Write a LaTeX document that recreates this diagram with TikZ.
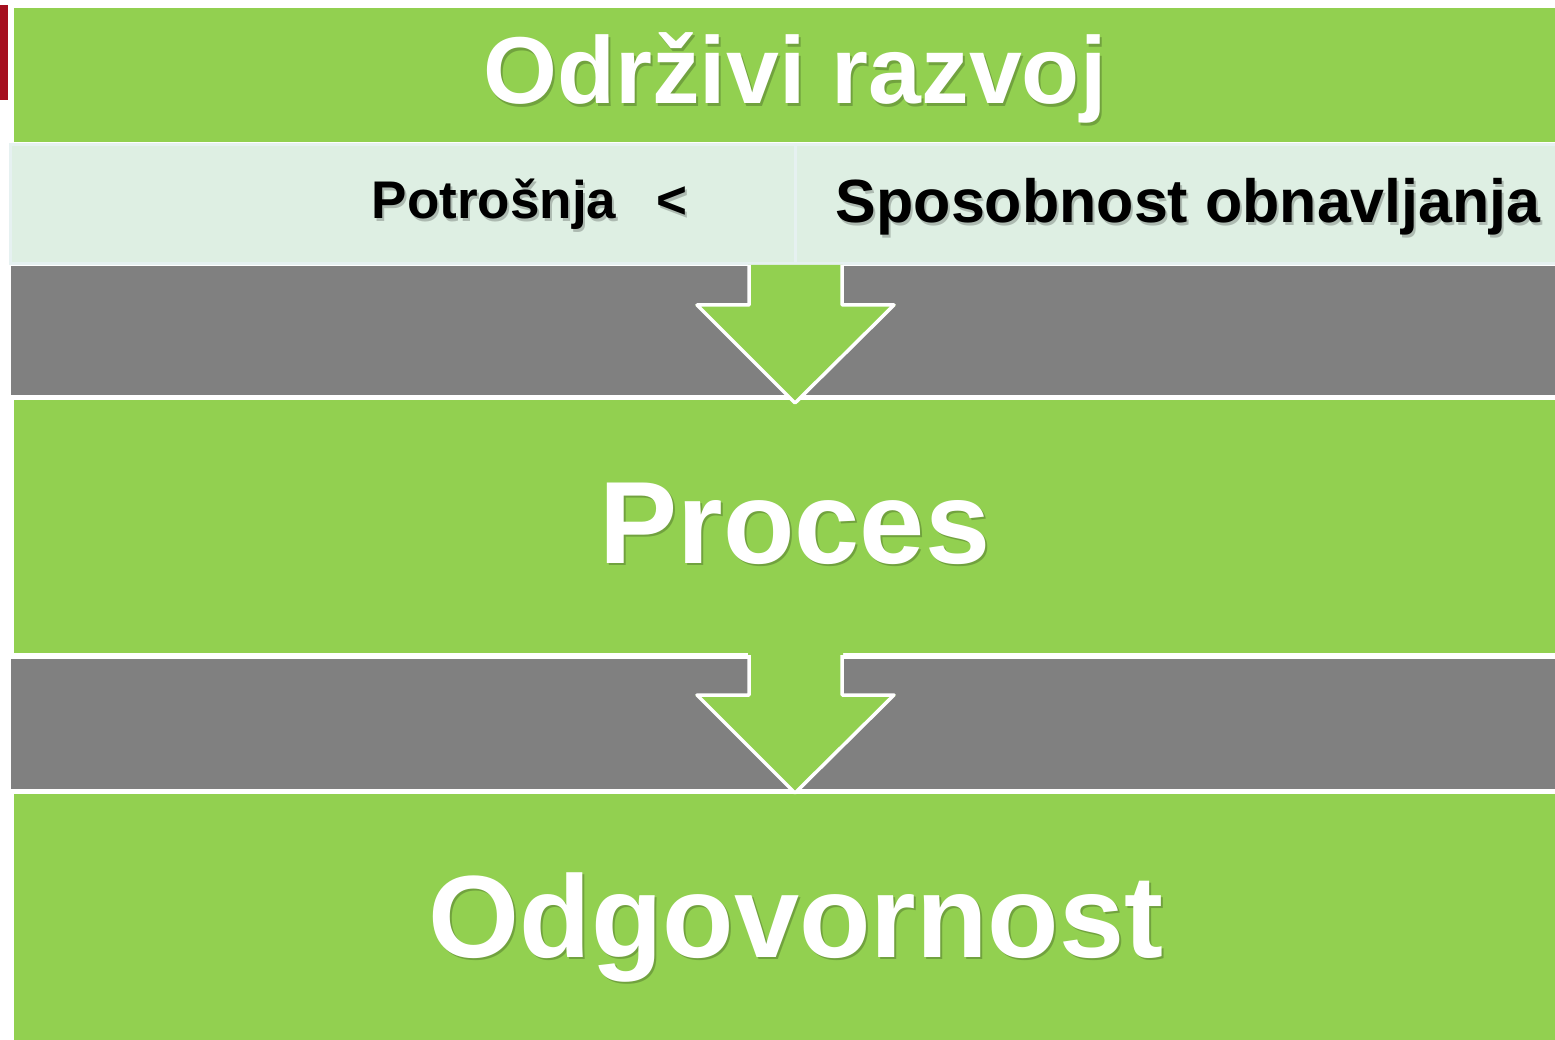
\documentclass[tikz,border=0pt]{standalone}
\usepackage{fontspec}
\setmainfont{Liberation Sans}
\definecolor{zelena}{HTML}{92D050}
\definecolor{siva}{HTML}{808080}
\definecolor{blijeda}{HTML}{DEEFE3}
\definecolor{rub}{HTML}{E6F1F1}
\definecolor{crvena}{HTML}{A50F1F}

\begin{document}
\begin{tikzpicture}[x=1pt, y=-1pt, line width=3pt,
    band/.style={anchor=north west, inner sep=0pt, outer sep=0pt},
    celija/.style={band, fill=blijeda, draw=rub},
    bijeli/.style={text=white, font=\bfseries},
    sjena/.style={text=black, opacity=.22, xshift=2pt, yshift=-2.5pt, font=\bfseries}]
    \useasboundingbox (0,0) rectangle (1555,1040);

    % Trake.
    \fill[crvena] (0,5) rectangle (8,100);
    \node[band, fill=zelena, minimum width=1541, minimum height=134] (vrh) at (14,8) {};
    \node[celija, minimum width=784.5, minimum height=119] (lijevo) at (10.5,144.5) {};
    \node[celija, minimum width=765, minimum height=119] (desno) at (795,144.5) {};
    \node[band, fill=siva, minimum width=1544, minimum height=129] (siva1) at (11,266) {};
    \node[band, fill=zelena, minimum width=1541, minimum height=253] (proces) at (14,400) {};
    \node[band, fill=siva, minimum width=1544, minimum height=130] (siva2) at (11,659) {};
    \node[band, fill=zelena, minimum width=1541, minimum height=250] (dno) at (14,794) {};

    % Strelice.
    \foreach \y/\t in {265/265, 650/655}
    {
        \fill[zelena] (748,\y) -- (748,\t+40) -- (695,\t+40) -- (795,\t+138)
            -- (896,\t+40) -- (843,\t+40) -- (843,\y) -- cycle;
        \draw[white, line width=3.5pt, line join=round] (749,\t) -- (749,\t+40) -- (697,\t+40)
            -- (795,\t+138) -- (894,\t+40) -- (842,\t+40) -- (842,\t);
    }

    % Natpisi.
    \node[sjena, anchor=base, font=\fontsize{95}{114}\selectfont\bfseries] (odrzivi-s) at (795,104) {Održivi razvoj};
    \node[bijeli, anchor=base, font=\fontsize{95}{114}\selectfont\bfseries] (odrzivi) at (795,104) {Održivi razvoj};

    \node[sjena, anchor=base west, font=\fontsize{53}{63}\selectfont\bfseries] (potrosnja-s) at (367,219) {Potrošnja\hspace{40pt}<};
    \node[anchor=base west, font=\fontsize{53}{63}\selectfont\bfseries] (potrosnja) at (367,219) {Potrošnja\hspace{40pt}<};
    \node[sjena, anchor=base west, font=\fontsize{61}{73}\selectfont\bfseries] (sposobnost-s) at (831,223) {Sposobnost obnavljanja};
    \node[anchor=base west, font=\fontsize{61}{73}\selectfont\bfseries] (sposobnost) at (831,223) {Sposobnost obnavljanja};

    \node[sjena, anchor=base, font=\fontsize{117}{140}\selectfont\bfseries] (proces-s) at (795,563) {Proces};
    \node[bijeli, anchor=base, font=\fontsize{117}{140}\selectfont\bfseries] (proces-t) at (795,563) {Proces};

    \node[sjena, anchor=base, font=\fontsize{117}{140}\selectfont\bfseries] (odgovornost-s) at (796,957) {Odgovornost};
    \node[bijeli, anchor=base, font=\fontsize{117}{140}\selectfont\bfseries] (odgovornost) at (796,957) {Odgovornost};
\end{tikzpicture}
\end{document}
